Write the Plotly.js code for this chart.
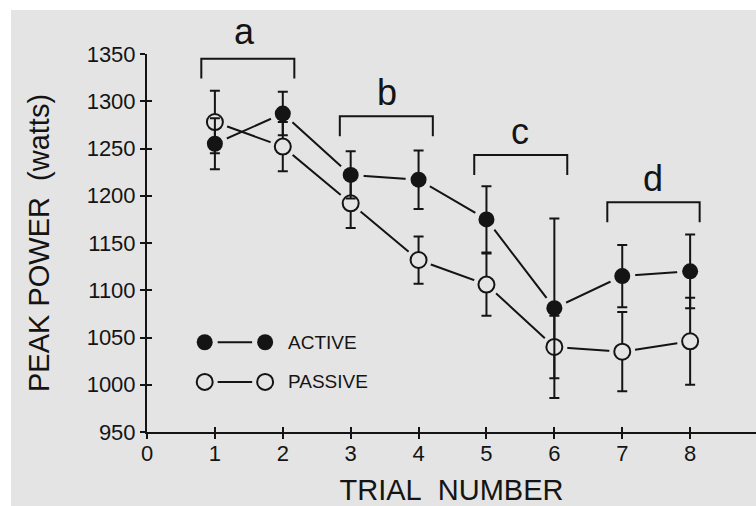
<!DOCTYPE html>
<html><head><meta charset="utf-8">
<script src="https://cdn.plot.ly/plotly-3.0.1.min.js"></script>
<style>
html,body{margin:0;padding:0;background:#ffffff;}
#chart{position:absolute;left:11px;top:10px;width:745px;height:496px;}
</style>
</head><body><div id="chart"></div>
<script>
// ---- data ----
const trials = [1, 2, 3, 4, 5, 6, 7, 8];
const activePower = [1255, 1287, 1222, 1217, 1175, 1081, 1115, 1120];
const activeErr   = [27, 23, 25, 31, 35, 95, 33, 39];
const passivePower = [1278, 1252, 1192, 1132, 1106, 1040, 1035, 1046];
const passiveErr   = [33, 26, 26, 25, 33, 33, 42, 46];

const xTickVals = [0, 1, 2, 3, 4, 5, 6, 7, 8];
const xTickText = ['0', '1', '2', '3', '4', '5', '6', '7', '8'];
const yTickVals = [950, 1000, 1050, 1100, 1150, 1200, 1250, 1300, 1350];

const bracketLabels = ['a', 'b', 'c', 'd'];
const bracketStart  = [0.80, 2.84, 4.82, 6.78];
const bracketEnd    = [2.17, 4.21, 6.19, 8.14];
const bracketTop    = [1345, 1284, 1243, 1193];
const labelX        = [1.43, 3.54, 5.49, 7.46];
const labelGapPx    = [14, 10, 10, 10];

const legendNames = ['ACTIVE', 'PASSIVE'];
const legendLevel = [1045, 1003];
const legendEnds  = [0.85, 1.74];

// ---- styling ----
const BG = '#e4e4e4';
const INK = '#141414';
const SANS = 'Liberation Sans, Arial, sans-serif';
const xRange = [0, 8.97];
const yRange = [950, 1350];

const traces = [];
// connecting lines
[activePower, passivePower].forEach(ys => {
  traces.push({x: trials, y: ys, mode: 'lines', line: {color: INK, width: 2},
    hoverinfo: 'skip', showlegend: false});
});
// key lines
legendLevel.forEach(lv => {
  traces.push({x: legendEnds, y: [lv, lv], mode: 'lines', line: {color: INK, width: 2},
    hoverinfo: 'skip', showlegend: false});
});
// halos that open small gaps in the lines near the markers
[activePower, passivePower].forEach(ys => {
  traces.push({x: trials, y: ys, mode: 'markers',
    marker: {size: 26, color: BG, line: {width: 0}}, hoverinfo: 'skip', showlegend: false});
});
legendLevel.forEach(lv => {
  traces.push({x: legendEnds, y: [lv, lv], mode: 'markers',
    marker: {size: 26, color: BG, line: {width: 0}}, hoverinfo: 'skip', showlegend: false});
});
// passive (open) with error bars
traces.push({x: trials, y: passivePower, mode: 'markers', name: 'PASSIVE',
  error_y: {type: 'data', array: passiveErr, visible: true, color: INK, thickness: 2, width: 5},
  marker: {symbol: 'circle', size: 16, color: BG, line: {color: INK, width: 2}}, showlegend: false});
// active (filled) with error bars
traces.push({x: trials, y: activePower, mode: 'markers', name: 'ACTIVE',
  error_y: {type: 'data', array: activeErr, visible: true, color: INK, thickness: 2, width: 5},
  marker: {symbol: 'circle', size: 16, color: INK, line: {width: 0}}, showlegend: false});
// key markers
traces.push({x: legendEnds, y: [legendLevel[0], legendLevel[0]], mode: 'markers',
  marker: {size: 16, color: INK}, hoverinfo: 'skip', showlegend: false});
traces.push({x: legendEnds, y: [legendLevel[1], legendLevel[1]], mode: 'markers',
  marker: {size: 16, color: BG, line: {color: INK, width: 2}}, hoverinfo: 'skip', showlegend: false});
// dummy trace for the overlay axes (inner half of crossing ticks)
traces.push({x: [], y: [], xaxis: 'x2', yaxis: 'y2', mode: 'markers', showlegend: false, hoverinfo: 'skip'});

const shapes = bracketLabels.map((_, i) => ({
  type: 'path', xref: 'x', yref: 'y',
  path: `M ${bracketStart[i]},${bracketTop[i] - 21} L ${bracketStart[i]},${bracketTop[i]} L ${bracketEnd[i]},${bracketTop[i]} L ${bracketEnd[i]},${bracketTop[i] - 21}`,
  line: {color: INK, width: 2}
}));

const annotations = bracketLabels.map((t, i) => ({
  x: labelX[i], y: bracketTop[i], xref: 'x', yref: 'y', text: t, showarrow: false,
  xanchor: 'center', yanchor: 'bottom', yshift: labelGapPx[i] - 9,
  font: {family: SANS, size: 36, color: INK}
})).concat(legendNames.map((t, i) => ({
  x: 2.05, y: legendLevel[i], xref: 'x', yref: 'y', text: t, showarrow: false,
  xanchor: 'left', yanchor: 'middle', font: {family: SANS, size: 19, color: INK}
})));

const layout = {
  width: 745, height: 496,
  margin: {l: 136, r: 0, t: 44, b: 74, pad: 0},
  paper_bgcolor: BG, plot_bgcolor: BG,
  showlegend: false,
  xaxis: {
    range: xRange, tickvals: xTickVals, ticktext: xTickText,
    ticks: 'outside', ticklen: 5, tickwidth: 2, tickcolor: INK,
    showline: true, linewidth: 2, linecolor: INK, showgrid: false, zeroline: false,
    tickfont: {family: SANS, size: 22, color: INK}, ticklabelstandoff: -4,
    title: {text: 'TRIAL\u00a0 NUMBER', font: {family: SANS, size: 29, color: INK}, standoff: 16},
    automargin: false, fixedrange: true
  },
  yaxis: {
    range: yRange, tickvals: yTickVals,
    ticks: 'outside', ticklen: 5, tickwidth: 2, tickcolor: INK,
    showline: true, linewidth: 2, linecolor: INK, showgrid: false, zeroline: false,
    tickfont: {family: SANS, size: 22, color: INK}, ticklabelstandoff: 0,
    title: {text: 'PEAK POWER\u00a0 (watts)', font: {family: SANS, size: 29, color: INK}, standoff: 28},
    automargin: false, fixedrange: true
  },
  xaxis2: {overlaying: 'x', anchor: 'y2', side: 'bottom', range: xRange, tickvals: [1, 2, 3, 4, 5, 6, 7, 8],
    ticks: 'inside', ticklen: 5, tickwidth: 2, tickcolor: INK, showticklabels: false,
    showline: false, showgrid: false, zeroline: false, fixedrange: true},
  yaxis2: {overlaying: 'y', anchor: 'x2', side: 'left', range: yRange, tickvals: yTickVals,
    ticks: 'inside', ticklen: 5, tickwidth: 2, tickcolor: INK, showticklabels: false,
    showline: false, showgrid: false, zeroline: false, fixedrange: true},
  shapes: shapes,
  annotations: annotations
};

Plotly.newPlot('chart', traces, layout, {staticPlot: true, displayModeBar: false});
</script>
</body></html>
